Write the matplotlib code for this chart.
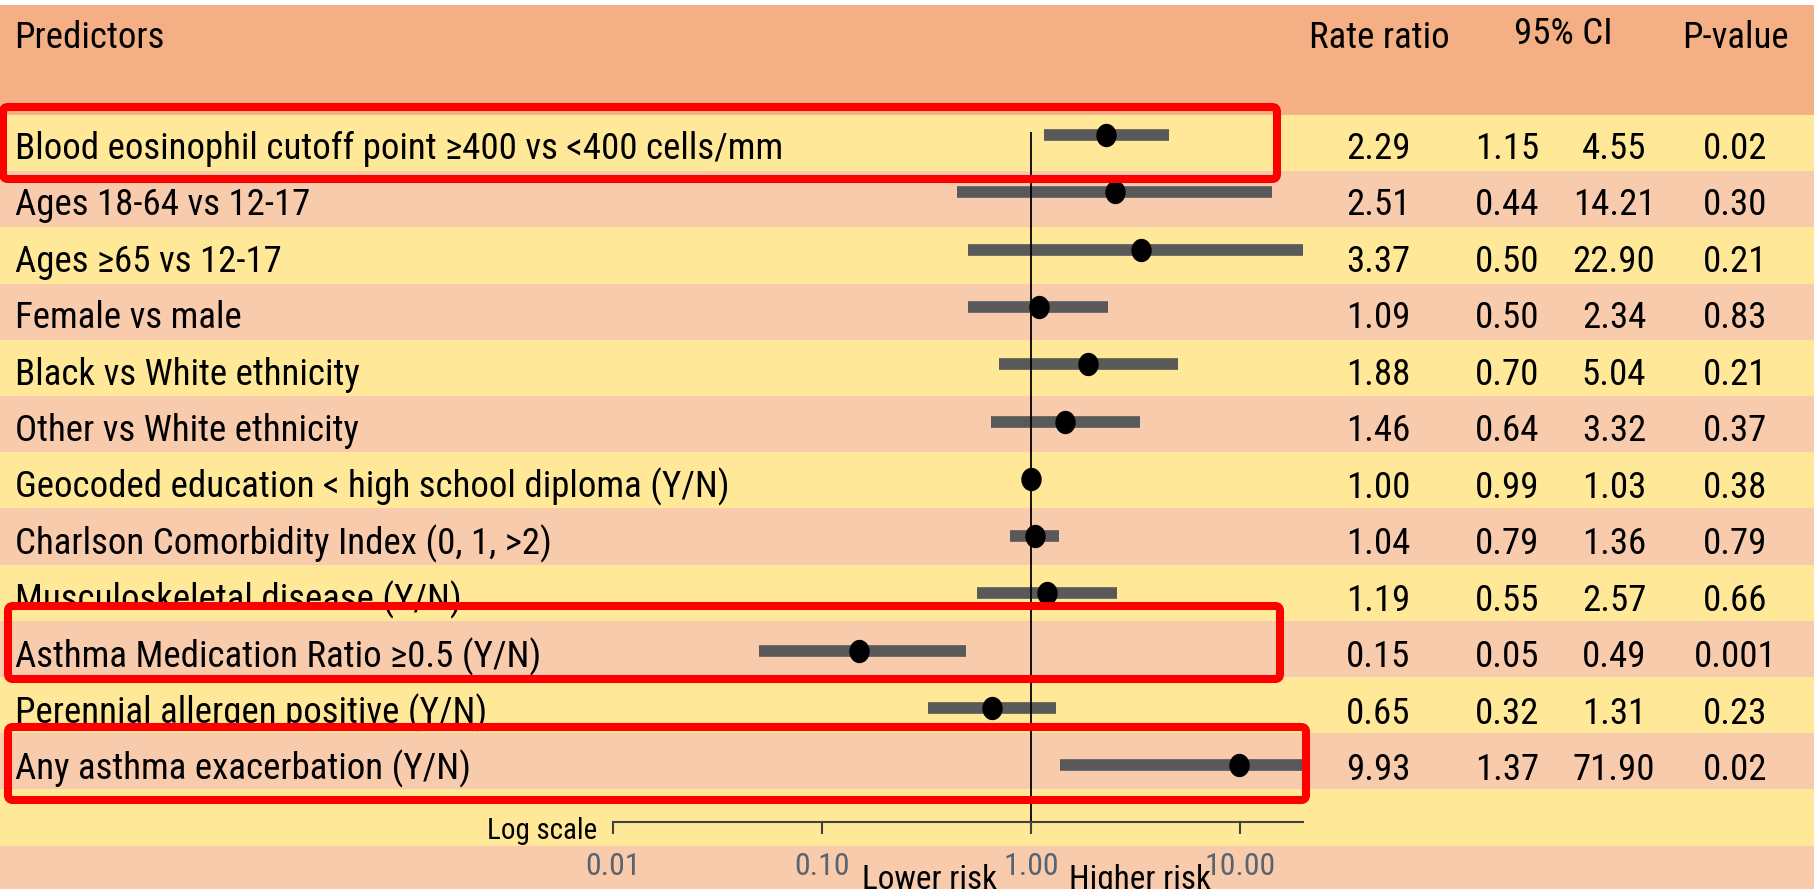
import numpy as np
import matplotlib

matplotlib.use("Agg")
from matplotlib import pyplot as plt
from matplotlib import font_manager
from matplotlib.patches import Rectangle, FancyBboxPatch
from matplotlib.path import Path
from matplotlib.ticker import FixedLocator, FixedFormatter, NullLocator

# narrowest available sans face
installed = {f.name for f in font_manager.fontManager.ttflist}
for cand in ["Liberation Sans Narrow", "Roboto Condensed", "Open Sans Condensed",
             "Noto Sans Condensed", "Lato", "Liberation Sans", "DejaVu Sans"]:
    if cand in installed:
        face = cand
        break
plt.rcParams["font.family"] = [face, "DejaVu Sans"]

#%% data
predictors = [
    "Blood eosinophil cutoff point ≥400 vs <400 cells/mm",
    "Ages 18-64 vs 12-17",
    "Ages ≥65 vs 12-17",
    "Female vs male",
    "Black vs White ethnicity",
    "Other vs White ethnicity",
    "Geocoded education < high school diploma (Y/N)",
    "Charlson Comorbidity Index (0, 1, >2)",
    "Musculoskeletal disease (Y/N)",
    "Asthma Medication Ratio ≥0.5 (Y/N)",
    "Perennial allergen positive (Y/N)",
    "Any asthma exacerbation (Y/N)",
]
rate_ratio = [2.29, 2.51, 3.37, 1.09, 1.88, 1.46, 1.00, 1.04, 1.19, 0.15, 0.65, 9.93]
ci_low = [1.15, 0.44, 0.50, 0.50, 0.70, 0.64, 0.99, 0.79, 0.55, 0.05, 0.32, 1.37]
ci_high = [4.55, 14.21, 22.90, 2.34, 5.04, 3.32, 1.03, 1.36, 2.57, 0.49, 1.31, 71.90]
p_value = ["0.02", "0.30", "0.21", "0.83", "0.21", "0.37", "0.38", "0.79", "0.66", "0.001", "0.23", "0.02"]
highlighted = [0, 9, 11]

tick_values = [0.01, 0.1, 1, 10]
tick_labels = ["0.01", "0.10", "1.00", "10.00"]

#%% layout (pixels)
W, H = 1814, 889
row_top, row_h = 115, 56.2
n = len(predictors)
axis_y = 822
header_col = "#F4B084"
yellow = "#FFE999"
pink = "#F8CBAD"

fig = plt.figure(figsize=(W / 100, H / 100), dpi=100)
fig.patch.set_facecolor("white")

# scale type so the longest label spans ~768 px
probe = fig.text(0, 0, predictors[0], fontsize=20)
w20 = probe.get_window_extent(fig.canvas.get_renderer()).width
probe.remove()
fs = 20 * 768 / w20
k = fs / 25.5

bg = fig.add_axes([0, 0, 1, 1])
bg.set_xlim(0, W)
bg.set_ylim(H, 0)
bg.axis("off")

bg.add_patch(Rectangle((0, 5), W, row_top - 5, color=header_col, lw=0))
for i in range(n + 1):
    bg.add_patch(Rectangle((0, row_top + i * row_h), W, row_h, color=yellow if i % 2 == 0 else pink, lw=0))
bg.add_patch(Rectangle((0, row_top + (n + 1) * row_h), W, H, color=pink, lw=0))

# header
bg.text(14, 48, "Predictors", fontsize=fs, va="baseline")
bg.text(1379, 48, "Rate ratio", fontsize=fs, va="baseline", ha="center")
bg.text(1563, 44, "95% CI", fontsize=fs, va="baseline", ha="center")
bg.text(1735, 48, "P-value", fontsize=fs, va="baseline", ha="center")

# table rows
for i in range(n):
    yb = 159 + i * 56.45
    bg.text(15, yb, predictors[i], fontsize=fs, va="baseline")
    bg.text(1378, yb, f"{rate_ratio[i]:.2f}", fontsize=fs, va="baseline", ha="center")
    bg.text(1507, yb, f"{ci_low[i]:.2f}", fontsize=fs, va="baseline", ha="center")
    bg.text(1614, yb, f"{ci_high[i]:.2f}", fontsize=fs, va="baseline", ha="center")
    bg.text(1735, yb, p_value[i], fontsize=fs, va="baseline", ha="center")

bg.text(597, 839, "Log scale", fontsize=20 * k, ha="right", va="baseline")
bg.text(930, 889, "Lower risk", fontsize=23 * k, ha="center", va="baseline")
bg.text(1140, 889, "Higher risk", fontsize=23 * k, ha="center", va="baseline")

#%% forest plot
x0, x1 = 613, 1303
ax = fig.add_axes([x0 / W, 1 - axis_y / H, (x1 - x0) / W, (axis_y - row_top) / H])
ax.patch.set_visible(False)
ax.set_xscale("log")
ax.set_xlim(0.01, 20)
ax.set_ylim(axis_y, row_top)

y_pts = 135 + np.arange(n) * 57.3
ax.hlines(y_pts, ci_low, ci_high, color="#595959", lw=8.4, capstyle="butt")
circ = Path.unit_circle()
ellipse = Path(circ.vertices * [19 / 22, 1.0], circ.codes)
ax.plot(rate_ratio, y_pts, ls="none", marker=ellipse, ms=15.8, color="black")
ax.vlines(1, 132, axis_y, color="black", lw=1.3)

for s in ["left", "right", "top"]:
    ax.spines[s].set_visible(False)
ax.spines["bottom"].set_color("#404040")
ax.spines["bottom"].set_linewidth(1.5)
ax.set_yticks([])
ax.xaxis.set_major_locator(FixedLocator(tick_values))
ax.xaxis.set_major_formatter(FixedFormatter(tick_labels))
ax.xaxis.set_minor_locator(NullLocator())
ax.tick_params(axis="x", direction="out", length=8.5, width=1.5, color="#404040",
               labelsize=22 * k, labelcolor="#5a6470", pad=13)

#%% highlight boxes
ov = fig.add_axes([0, 0, 1, 1])
ov.set_xlim(0, W)
ov.set_ylim(H, 0)
ov.axis("off")
boxes = [(3, 107, 1277, 179), (8, 606, 1280, 679), (8, 727, 1306, 800)]
for bx0, by0, bx1, by1 in boxes:
    ov.add_patch(FancyBboxPatch((bx0, by0), bx1 - bx0, by1 - by0,
                                boxstyle="round,pad=0,rounding_size=5",
                                fill=False, ec="#FF0000", lw=5.8))

fig.savefig("out.png", dpi=100)
